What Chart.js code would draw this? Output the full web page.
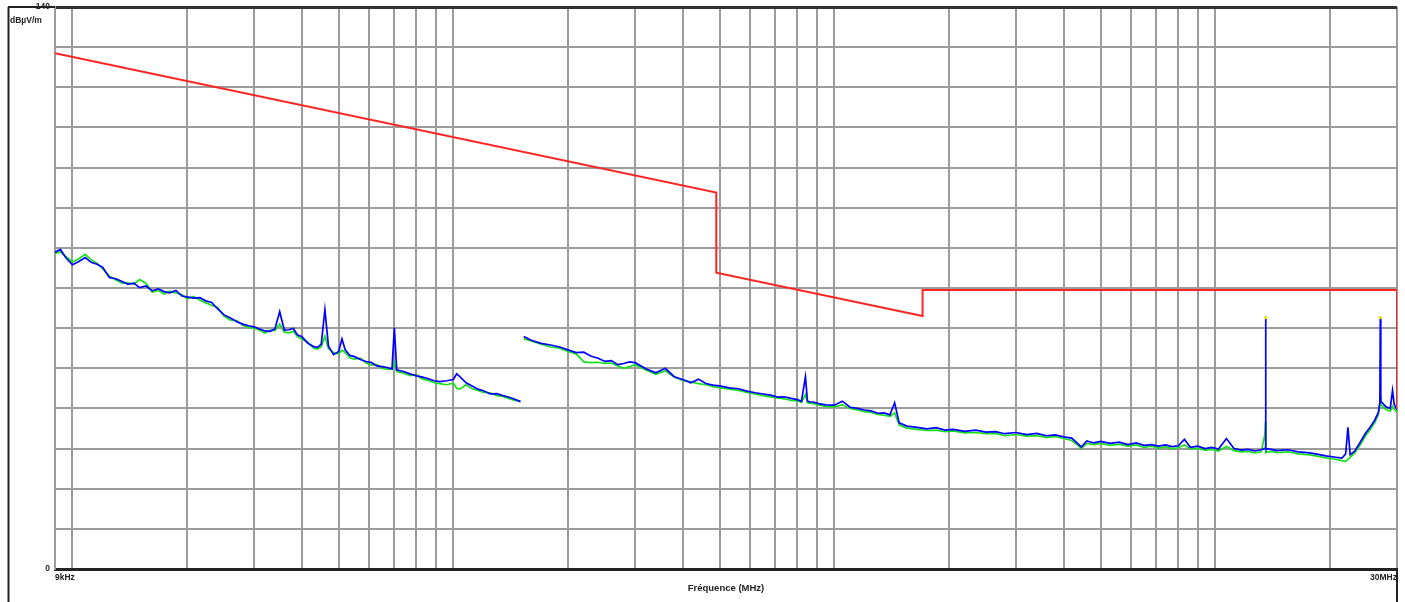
<!DOCTYPE html>
<html>
<head>
<meta charset="utf-8">
<script src="https://cdn.jsdelivr.net/npm/chart.js@4/dist/chart.umd.min.js"></script>
<style>
  html, body { margin: 0; padding: 0; background: #ffffff; }
  #wrap { width: 1405px; height: 602px; position: relative; }
</style>
</head>
<body>
<div id="wrap"><canvas id="c"></canvas></div>
<script>
// ---- Data (frequency in MHz, level in dBµV/m) ----
const freq1 = [
  0.009,0.0093,0.0096,0.010,0.0104,0.0108,0.0112,0.0116,0.012,0.0125,
  0.013,0.0135,0.014,0.0145,0.015,0.0156,0.0162,0.0168,0.0174,0.018,
  0.0187,0.0194,0.020,0.0208,0.0216,0.0224,0.0232,0.024,0.025,0.026,
  0.027,0.028,0.029,0.030,0.031,0.032,0.033,0.034,0.035,0.036,
  0.037,0.038,0.039,0.040,0.0415,0.043,0.044,0.045,0.046,0.047,
  0.0485,0.050,0.051,0.052,0.0535,0.055,0.057,0.059,0.061,0.063,
  0.065,0.067,0.069,0.070,0.071,0.074,0.077,0.080,0.083,0.086,
  0.089,0.092,0.096,0.100,0.102,0.104,0.108,0.112,0.116,0.120,
  0.125,0.130,0.135,0.140,0.145,0.150
];
const blue1 = [
  78.9,79.6,77.6,75.8,76.6,77.6,76.4,75.9,75.2,72.6,
  72.3,71.6,70.9,71.2,70.1,70.5,69.3,69.8,69.1,68.8,
  69.4,68.0,67.8,67.5,67.6,66.8,66.4,64.9,63.3,62.5,
  61.6,61.0,60.6,60.3,59.8,59.3,59.2,59.8,64.1,59.5,
  59.6,59.9,58.3,57.9,56.2,55.4,55.2,56.0,64.6,55.5,
  53.4,54.2,57.3,54.6,53.2,52.9,52.2,51.7,51.4,50.6,
  50.4,50.2,49.8,60.1,49.6,49.2,48.6,48.1,47.8,47.4,
  46.9,46.7,46.9,47.2,48.6,47.9,46.4,45.6,44.8,44.4,
  43.6,43.7,43.2,42.8,42.3,41.7
];
const green1 = [
  78.6,79.0,77.9,76.5,77.3,78.4,77.0,76.2,74.8,73.0,
  72.0,71.2,71.3,71.0,72.1,71.2,69.0,69.4,68.5,69.2,
  68.8,68.3,67.3,67.9,67.0,66.3,65.7,65.2,63.0,62.0,
  61.9,60.7,60.2,60.0,59.5,58.8,59.5,59.4,61.0,59.0,
  58.8,59.2,57.9,57.3,56.5,55.0,54.8,55.4,58.0,54.9,
  53.9,53.6,54.5,53.9,52.6,52.3,52.5,51.3,50.8,50.9,
  50.0,49.7,49.9,51.5,49.2,48.8,48.2,48.4,47.3,47.0,
  46.4,46.2,45.9,46.3,45.0,44.8,45.9,44.9,44.5,44.0,
  43.9,43.2,43.0,42.4,42.0,41.8
];

const freq2 = [
  0.153,0.16,0.17,0.18,0.19,0.20,0.21,0.22,0.23,0.24,
  0.25,0.26,0.27,0.28,0.29,0.30,0.32,0.34,0.36,0.38,
  0.40,0.42,0.44,0.46,0.48,0.50,0.53,0.56,0.59,0.62,
  0.65,0.68,0.71,0.74,0.77,0.80,0.82,0.84,0.85,0.86,
  0.88,0.91,0.95,1.0,1.05,1.1,1.15,1.2,1.25,1.3,
  1.35,1.4,1.44,1.48,1.55,1.65,1.75,1.85,1.95,2.05,
  2.2,2.35,2.5,2.65,2.8,3.0,3.2,3.4,3.6,3.8,
  4.0,4.2,4.35,4.45,4.6,4.8,5.0,5.3,5.6,5.9,
  6.2,6.5,6.8,7.1,7.4,7.7,8.0,8.3,8.6,9.0,
  9.4,9.8,10.2,10.7,11.2,11.7,12.2,12.7,13.2,13.5,
  13.54,13.56,13.58,14.0,14.5,15.5,16.5,17.5,18.5,19.5,
  20.5,21.5,22.0,22.3,22.6,23.2,24.0,24.8,25.5,26.2,
  26.8,27.05,27.12,27.2,28.0,28.8,29.2,29.5,30.0
];
const blue2 = [
  57.9,57.0,56.2,55.8,55.3,54.6,53.9,54.0,53.0,52.5,
  51.7,51.9,50.9,51.2,51.6,51.4,49.9,48.9,50.0,47.9,
  47.2,46.4,47.3,46.2,45.8,45.6,45.1,44.9,44.3,43.9,
  43.6,43.3,42.8,42.9,42.5,42.2,41.8,47.9,41.9,41.6,
  41.6,41.2,40.9,40.8,41.8,40.3,40.0,39.6,39.4,38.8,
  38.9,38.4,41.4,36.4,35.6,35.3,34.9,35.2,34.6,34.8,
  34.3,34.6,34.1,34.2,33.7,34.0,33.5,33.8,33.2,33.4,
  32.9,32.6,31.3,30.4,31.9,31.4,31.8,31.3,31.6,31.0,
  31.4,30.8,31.0,30.6,30.9,30.5,30.7,32.3,30.3,30.6,
  30.0,30.3,29.9,32.5,30.0,29.6,29.8,29.4,29.7,30.0,
  30.2,62.4,30.0,29.8,29.5,29.7,29.2,29.0,28.6,28.2,
  27.9,27.6,28.7,35.3,28.5,29.3,31.5,33.8,35.3,37.0,
  39.0,41.5,62.4,41.8,40.5,40.0,44.5,41.0,39.7
];
const green2 = [
  57.4,56.8,56.0,55.3,55.0,54.2,53.6,51.6,51.4,51.5,
  51.2,51.3,50.6,50.0,50.4,50.9,49.6,48.5,49.4,47.8,
  47.0,46.6,46.2,45.9,45.4,45.2,44.8,44.5,44.0,43.6,
  43.2,42.9,42.6,42.4,42.0,41.9,41.5,43.5,41.4,41.3,
  41.2,40.9,40.5,40.4,40.9,40.0,39.6,39.2,39.0,38.5,
  38.3,38.0,38.9,35.9,35.1,34.8,34.5,34.6,34.2,34.4,
  33.9,34.0,33.7,33.8,33.2,33.5,33.1,33.2,32.8,33.0,
  32.5,32.0,30.9,30.0,31.3,31.0,31.3,30.8,31.1,30.6,
  30.9,30.3,30.6,30.1,30.4,30.0,30.2,30.9,29.9,30.1,
  29.6,29.8,29.4,30.5,29.5,29.2,29.3,28.9,29.2,33.5,
  36.7,31.5,29.0,29.3,29.0,29.2,28.7,28.5,28.1,27.7,
  27.4,27.0,26.8,27.3,27.9,28.8,30.9,33.2,34.7,36.4,
  38.4,40.8,43.0,40.9,39.8,39.3,40.5,39.8,39.0
];

const limitFreq = [0.009, 0.49, 0.49, 1.705, 1.705, 30, 30];
const limitVal  = [128.5, 93.8, 73.8, 63.0, 69.5, 69.5, 40.0];

const peakFreq = [13.56, 27.12];
const peakVal  = [62.6, 62.6];

const xMin = 0.009, xMax = 30;
const yMin = 0, yMax = 140, yStep = 10;
const gridMantissas = [1,2,3,4,5,6,7,8,9];
const gridDecades = [0.001, 0.01, 0.1, 1, 10];
const xTickLabels = [[0.009, '9kHz'], [30, '30MHz']];
const yTickLabels = [[0, '0'], [140, '140']];
const yUnit = 'dBµV/m';
const xTitle = 'Fréquence (MHz)';

// ---- build helpers ----
const pts = (xs, ys) => xs.map((x, i) => ({ x: x, y: ys[i] }));
const gridFreqs = [];
gridDecades.forEach(d => gridMantissas.forEach(m => {
  const v = +(m * d).toPrecision(6);
  if (v >= xMin - 1e-9 && v <= xMax + 1e-9) gridFreqs.push(v);
}));
if (!gridFreqs.includes(xMax)) gridFreqs.push(xMax);
const labelFor = (list, v) => {
  const hit = list.find(p => Math.abs(p[0] - v) < 1e-7 * Math.max(1, Math.abs(v)) + 1e-9);
  return hit ? hit[1] : '';
};

const gridGray = '#9c9c9c';
const font = { family: '"Liberation Sans", Arial, sans-serif', size: 8.5, weight: 'bold' };
const titleFont = { family: '"Liberation Sans", Arial, sans-serif', size: 9.5, weight: 'bold' };

const framePlugin = {
  id: 'frame',
  afterDraw(chart) {
    const ctx = chart.ctx, a = chart.chartArea;
    ctx.save();
    ctx.strokeStyle = '#222';
    ctx.lineWidth = 2;
    ctx.beginPath();
    ctx.moveTo(8.5, a.top); ctx.lineTo(8.5, chart.height);
    ctx.moveTo(8, a.top); ctx.lineTo(a.left, a.top);
    ctx.moveTo(a.right, a.bottom); ctx.lineTo(a.right, chart.height);
    ctx.stroke();
    ctx.fillStyle = '#222';
    ctx.font = 'bold 8.5px "Liberation Sans", Arial, sans-serif';
    ctx.textAlign = 'left';
    ctx.textBaseline = 'middle';
    ctx.fillText(yUnit, 10, a.top + 14);
    ctx.restore();
  }
};

new Chart(document.getElementById('c'), {
  type: 'line',
  data: {
    datasets: [
      { label: 'Limit', data: pts(limitFreq, limitVal), borderColor: '#ff2424', borderWidth: 2, pointRadius: 0, tension: 0, order: 0 },
      { label: 'Peaks', data: pts(peakFreq, peakVal), showLine: false, pointRadius: 1.6, pointBackgroundColor: '#e6e000', pointBorderWidth: 0, order: 1 },
      { label: 'Peak 1', data: pts(freq1, blue1), borderColor: '#0000ff', borderWidth: 1.7, pointRadius: 0, tension: 0, order: 2 },
      { label: 'Peak 2', data: pts(freq2, blue2), borderColor: '#0000ff', borderWidth: 1.7, pointRadius: 0, tension: 0, order: 2 },
      { label: 'QP 1', data: pts(freq1, green1), borderColor: '#18e018', borderWidth: 1.7, pointRadius: 0, tension: 0, order: 3 },
      { label: 'QP 2', data: pts(freq2, green2), borderColor: '#18e018', borderWidth: 1.7, pointRadius: 0, tension: 0, order: 3 }
    ]
  },
  options: {
    responsive: true,
    maintainAspectRatio: false,
    animation: false,
    layout: { padding: { left: 8, right: 8, top: 7, bottom: 0 } },
    plugins: { legend: { display: false }, tooltip: { enabled: false }, title: { display: false } },
    scales: {
      x: {
        type: 'logarithmic',
        min: xMin, max: xMax,
        afterBuildTicks: (scale) => { scale.ticks = gridFreqs.map(v => ({ value: v })); },
        afterFit: (scale) => { scale.height = 33; scale.paddingLeft = 0; scale.paddingRight = 0; },
        ticks: {
          autoSkip: false, maxRotation: 0, align: 'inner', padding: 4,
          color: '#222', font: font,
          callback: (v) => labelFor(xTickLabels, v)
        },
        grid: { color: gridGray, lineWidth: 2, drawTicks: false },
        border: { display: true, color: '#222', width: 3 },
        title: { display: true, text: xTitle, color: '#222', font: titleFont, padding: { top: 2, bottom: 8 } }
      },
      y: {
        type: 'linear',
        min: yMin, max: yMax,
        afterFit: (scale) => { scale.width = 47; scale.paddingTop = 0; scale.paddingBottom = 0; },
        ticks: {
          stepSize: yStep, autoSkip: false, padding: 5,
          color: '#222', font: font,
          callback: (v) => labelFor(yTickLabels, v)
        },
        grid: {
          drawTicks: false,
          color: (c) => (c.tick && (c.tick.value === yMax)) ? '#333' : gridGray,
          lineWidth: (c) => (c.tick && (c.tick.value === yMax)) ? 3 : 2
        },
        border: { display: true, color: gridGray, width: 2 }
      }
    }
  },
  plugins: [framePlugin]
});
</script>
</body>
</html>
